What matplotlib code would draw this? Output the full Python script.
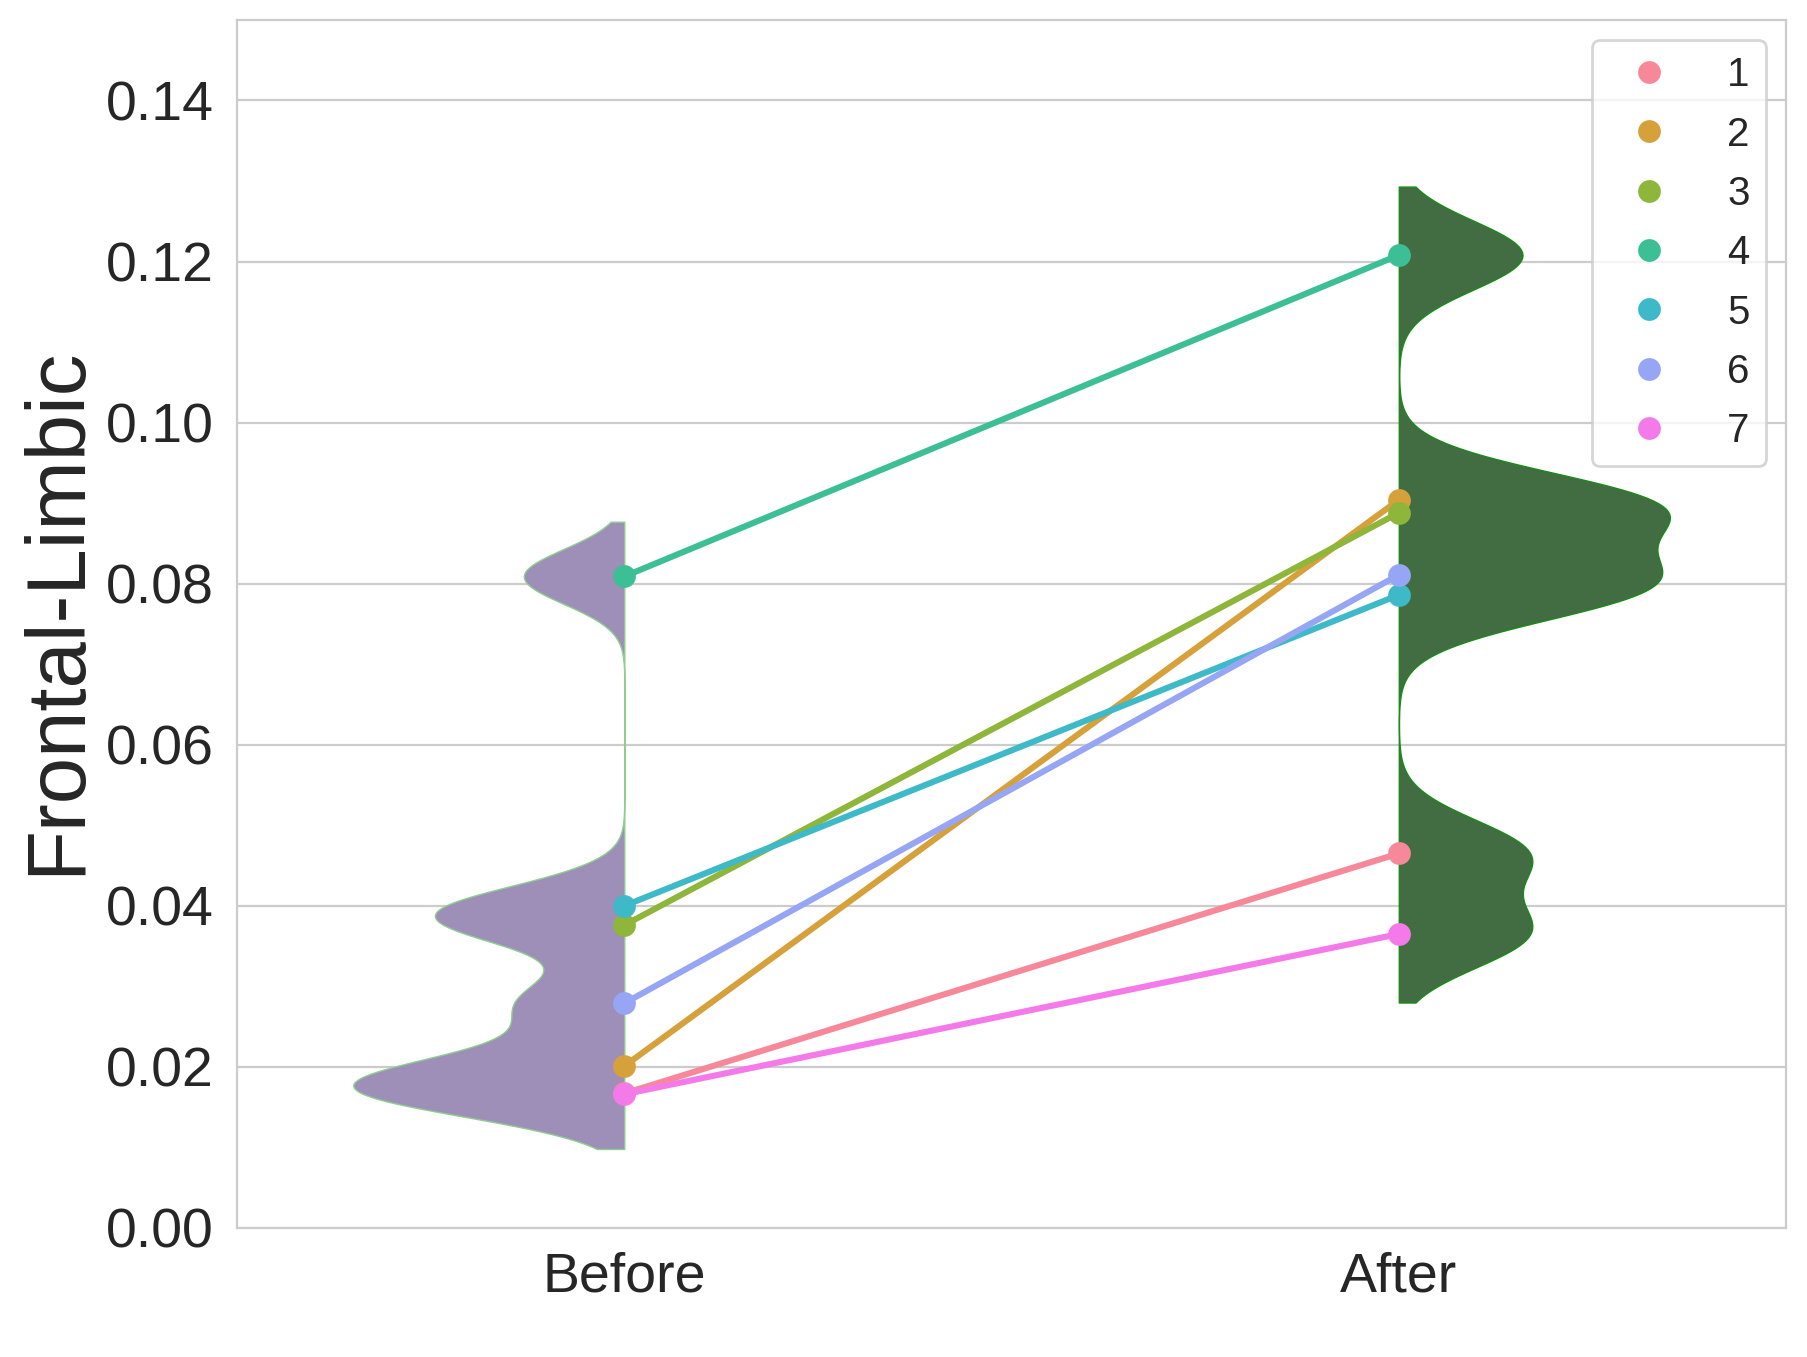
import numpy as np
import matplotlib
matplotlib.use("Agg")
import matplotlib.pyplot as plt
from matplotlib.lines import Line2D
import seaborn as sns

sns.set_style("whitegrid")
plt.rcParams['font.family'] = ['Liberation Sans', 'DejaVu Sans']

# data
groups = ["Before", "After"]
subjects = ["1", "2", "3", "4", "5", "6", "7"]
before = [0.0167, 0.0201, 0.0376, 0.0809, 0.0400, 0.0279, 0.0166]
after = [0.0465, 0.0904, 0.0888, 0.1208, 0.0786, 0.0811, 0.0365]
colors = ["#f6889a", "#d6a03a", "#8eb63a", "#3cbf95", "#3eb9c8", "#97a6f4", "#f47ae9"]
violin_colors = ["#9e8fb9", "#426c41"]


def half_violin(ax, x, vals, side, color):
    vals = np.asarray(vals)
    bw = 0.15 * vals.std(ddof=1)
    grid = np.linspace(vals.min() - 2 * bw, vals.max() + 2 * bw, 300)
    dens = np.exp(-0.5 * ((grid[:, None] - vals[None, :]) / bw) ** 2).sum(1)
    dens = dens / dens.max() * 0.35
    if side == "left":
        ax.fill_betweenx(grid, x - dens, x, facecolor=color,
                         edgecolor="#8fce8f", linewidth=0.5, zorder=1)
    else:
        ax.fill_betweenx(grid, x, x + dens, facecolor=color,
                         edgecolor="#1a8a1a", linewidth=0.5, zorder=1)


fig = plt.figure(figsize=(9.035, 6.785), dpi=200)
ax = fig.add_axes([0.1312, 0.0951, 0.8572, 0.8902])

half_violin(ax, 0, before, "left", violin_colors[0])
half_violin(ax, 1, after, "right", violin_colors[1])

for i in range(len(subjects)):
    ax.plot([0, 1], [before[i], after[i]], color=colors[i], lw=2.2,
            marker="o", ms=7.2, zorder=3)

ax.set_xlim(-0.5, 1.5)
ax.set_ylim(0, 0.15)
ax.set_xticks([0, 1])
ax.set_xticklabels(groups)
ax.set_yticks(np.arange(0, 0.141, 0.02))
ax.set_yticklabels(["%.2f" % v for v in np.arange(0, 0.141, 0.02)])
ax.tick_params(labelsize=20, colors="#262626", pad=5)
ax.grid(axis="x", visible=False)
ax.set_ylabel("Frontal-Limbic", fontsize=30, color="#262626")
ax.yaxis.set_label_coords(-0.091, 0.511)
for s in ax.spines.values():
    s.set_color("#cccccc")

handles = [Line2D([], [], ls="none", marker="o", ms=7.2, color=c) for c in colors]
ax.legend(handles, subjects, loc="upper right", fontsize=14.5,
          handletextpad=0.95, labelspacing=0.53)

fig.savefig("out.png", dpi=200)
